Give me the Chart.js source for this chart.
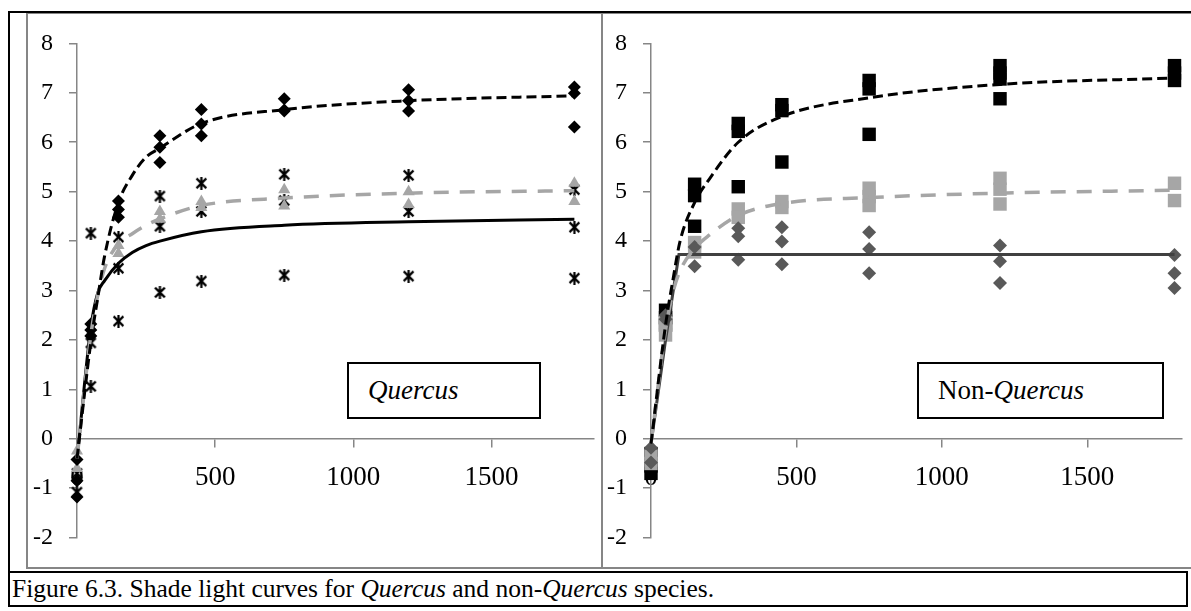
<!DOCTYPE html>
<html>
<head>
<meta charset="utf-8">
<script src="https://cdn.jsdelivr.net/npm/chart.js@4/dist/chart.umd.min.js"></script>
<style>
  body { margin: 0; background: #fff; width: 1191px; height: 611px; overflow: hidden; position: relative;
         font-family: "Liberation Serif", "DejaVu Serif", serif; }
  .abs { position: absolute; }
  .chart { position: absolute; }
  .tag { position: absolute; border: 2px solid #000; background: #fff; box-sizing: border-box;
         font-size: 27px; line-height: 53px; padding-left: 19px; white-space: nowrap; }
  #caption { position: absolute; left: 8px; top: 571px; width: 1180px; height: 36px; box-sizing: border-box;
             border: 2px solid #000; font-size: 25.5px; line-height: 32px; padding-left: 2px; white-space: nowrap; }
</style>
</head>
<body>
<!-- outer frame -->
<div class="abs" style="left:8px;top:11px;width:1183px;height:2px;background:#000"></div>
<div class="abs" style="left:8px;top:11px;width:2px;height:596px;background:#000"></div>
<!-- panel borders -->
<div class="abs" style="left:26px;top:13px;width:1165px;height:1px;background:#868686"></div>
<div class="abs" style="left:26px;top:13px;width:2px;height:556px;background:#868686"></div>
<div class="abs" style="left:26px;top:567px;width:1165px;height:1.5px;background:#868686"></div>
<div class="abs" style="left:601px;top:13px;width:1.5px;height:556px;background:#868686"></div>

<div class="chart" style="left:27px;top:13px;width:574px;height:555px"><canvas id="left"></canvas></div>
<div class="chart" style="left:602px;top:13px;width:589px;height:555px"><canvas id="right"></canvas></div>

<div class="tag" style="left:347px;top:362px;width:194px;height:57px"><i>Quercus</i></div>
<div class="tag" style="left:917px;top:362px;width:247px;height:57px">Non-<i>Quercus</i></div>

<div id="caption">Figure 6.3. Shade light curves for <i>Quercus</i> and non-<i>Quercus</i> species.</div>

<script>
// light levels of the measurements
const light = [0, 50, 150, 300, 450, 750, 1200, 1800];
const xTickValues = [0, 500, 1000, 1500];

// Quercus measurements (one list per light level)
const qDiamond = [[-0.42, -0.85, -1.18], [2.32, 2.2, 2.08], [4.81, 4.64, 4.48], [6.13, 5.9, 5.59],
                  [6.66, 6.37, 6.13], [6.88, 6.65, 6.63], [7.06, 6.84, 6.63], [7.12, 6.99, 6.31]];
const qStar = [[-1.08, -0.7], [4.16, 1.94, 1.06], [4.08, 3.45, 2.38], [4.91, 4.3, 2.96],
               [5.17, 4.6, 3.19], [5.35, 4.82, 3.31], [5.33, 4.6, 3.29], [5.04, 4.28, 3.25]];
const qTriangle = [[-0.25, -0.6], [2.25, 2.15], [3.91, 3.75], [4.6, 4.44],
                   [4.8, 4.68], [5.04, 4.71], [5.0, 4.74], [5.17, 4.8]];

// Quercus fitted curves
const qCurveX = [0, 50, 75, 100, 150, 200, 250, 300, 450, 750, 1200, 1800];
const qFitDiamond = [-0.4, 1.95, 2.85, 3.7, 4.78, 5.33, 5.7, 5.88, 6.38, 6.66, 6.84, 6.94];
const qFitStar = [-0.43, 2.25, 2.95, 3.2, 3.55, 3.77, 3.91, 4.0, 4.19, 4.32, 4.39, 4.44];
const qFitTriangle = [-0.4, 2.1, 2.9, 3.45, 3.95, 4.15, 4.32, 4.45, 4.72, 4.87, 4.97, 5.02];

// Non-Quercus measurements
const nSquare = [[-0.3, -0.55, -0.7], [2.6, 2.45, 2.3], [5.15, 4.92, 4.3], [6.38, 6.22, 5.1],
                 [6.76, 6.64, 5.6], [7.25, 7.08, 6.16], [7.55, 7.4, 7.28, 6.88], [7.55, 7.4, 7.25]];
const nGraySquare = [[-0.5, -0.35], [2.1, 2.35], [3.97, 3.78], [4.65, 4.48],
                     [4.8, 4.68], [5.07, 4.9, 4.72], [5.27, 5.05, 4.75], [5.17, 4.82]];
const nDiamond = [[-0.18, -0.48], [2.5, 2.42], [3.88, 3.49], [4.26, 4.1, 3.62],
                  [4.28, 3.99, 3.53], [4.18, 3.84, 3.35], [3.91, 3.59, 3.15], [3.72, 3.35, 3.05]];

// Non-Quercus fitted curves
const nCurveX = [0, 50, 75, 100, 150, 200, 300, 450, 750, 1200, 1800];
const nFitSquare = [-0.1, 2.3, 3.2, 4.0, 4.78, 5.25, 6.0, 6.52, 6.9, 7.17, 7.3];
const nFitGraySquare = [-0.1, 2.2, 2.95, 3.4, 3.85, 4.12, 4.52, 4.76, 4.88, 4.97, 5.03];
const nFitDiamondX = [0, 50, 96, 1800];
const nFitDiamond = [-0.1, 2.0, 3.73, 3.73];

const yTicks = { min: -2, max: 8, step: 1 };

Chart.defaults.font.family = "'Liberation Serif', 'DejaVu Serif', serif";
Chart.defaults.color = '#000';

function toPoints(xs, groups) {
  var pts = [];
  groups.forEach(function (g, i) {
    g.forEach(function (v) { pts.push({ x: xs[i], y: v }); });
  });
  return pts;
}

function toLine(xs, ys) {
  return xs.map(function (x, i) { return { x: x, y: ys[i] }; });
}

function starMarker(size, lw) {
  var c = document.createElement('canvas');
  c.width = size; c.height = size;
  var g = c.getContext('2d');
  g.strokeStyle = '#000';
  g.lineWidth = lw;
  var m = lw / 2 + 0.5, e = size - m, h = size / 2;
  g.beginPath();
  g.moveTo(m, m); g.lineTo(e, e);
  g.moveTo(e, m); g.lineTo(m, e);
  g.moveTo(h, 0); g.lineTo(h, size);
  g.stroke();
  return c;
}

function curve(data, color, width, dash, smooth) {
  return {
    data: data, showLine: true, pointRadius: 0, borderColor: color, borderWidth: width,
    borderDash: dash, cubicInterpolationMode: smooth ? 'monotone' : 'default', tension: 0
  };
}

function markers(data, style, radius, color) {
  return {
    data: data, showLine: false, pointStyle: style, pointRadius: radius,
    backgroundColor: color, borderColor: color, borderWidth: 0
  };
}

function makeChart(id, datasets, xMax, yWidth) {
  var axisGray = '#868686';
  new Chart(document.getElementById(id), {
    type: 'scatter',
    data: { datasets: datasets },
    options: {
      responsive: true, maintainAspectRatio: false, animation: false,
      layout: { padding: { top: 28, bottom: 23, left: 0, right: 0 } },
      datasets: { scatter: { clip: false } },
      plugins: { legend: { display: false }, tooltip: { enabled: false } },
      scales: {
        x: {
          type: 'linear', min: 0, max: xMax, position: { y: 0 },
          afterBuildTicks: function (s) {
            s.ticks = xTickValues.map(function (v) { return { value: v }; });
          },
          ticks: { autoSkip: false, maxRotation: 0, padding: 15, font: { size: 27 }, color: '#000',
                   callback: function (v) { return String(v); } },
          grid: { drawOnChartArea: false, drawTicks: true, tickLength: 8, color: axisGray, lineWidth: 1.5 },
          border: { color: axisGray, width: 1.5 },
          afterFit: function (s) { s.height = 0; }
        },
        y: {
          type: 'linear', min: yTicks.min, max: yTicks.max,
          ticks: { stepSize: yTicks.step, padding: 16, font: { size: 24 }, color: '#000' },
          grid: { drawOnChartArea: false, drawTicks: true, tickLength: 8, color: axisGray, lineWidth: 1.5 },
          border: { color: axisGray, width: 1.5 },
          afterFit: function (s) { s.width = yWidth; }
        }
      }
    }
  });
}

var star = starMarker(13, 2.2);

makeChart('left', [
  curve(toLine(qCurveX, qFitDiamond), '#000', 3, [10, 5], true),
  curve(toLine(qCurveX, qFitTriangle), '#a6a6a6', 3.5, [15, 11], true),
  curve(toLine(qCurveX, qFitStar), '#000', 3, [], true),
  markers(toPoints(light, qDiamond), 'rectRot', 6.5, '#000'),
  markers(toPoints(light, qTriangle), 'triangle', 7, '#a6a6a6'),
  markers(toPoints(light, qStar), star, 6.5, '#000')
], 1871, 50);

makeChart('right', [
  curve(toLine(nCurveX, nFitSquare), '#000', 3, [10, 5], true),
  curve(toLine(nCurveX, nFitGraySquare), '#a6a6a6', 3.5, [15, 11], true),
  curve(toLine(nFitDiamondX, nFitDiamond), '#404040', 3, [], false),
  markers(toPoints(light, nDiamond), 'rectRot', 7, '#595959'),
  markers(toPoints(light, nGraySquare), 'rect', 9.5, '#a6a6a6'),
  markers(toPoints(light, nSquare), 'rect', 9.5, '#000')
], 1824, 49);
</script>
</body>
</html>
